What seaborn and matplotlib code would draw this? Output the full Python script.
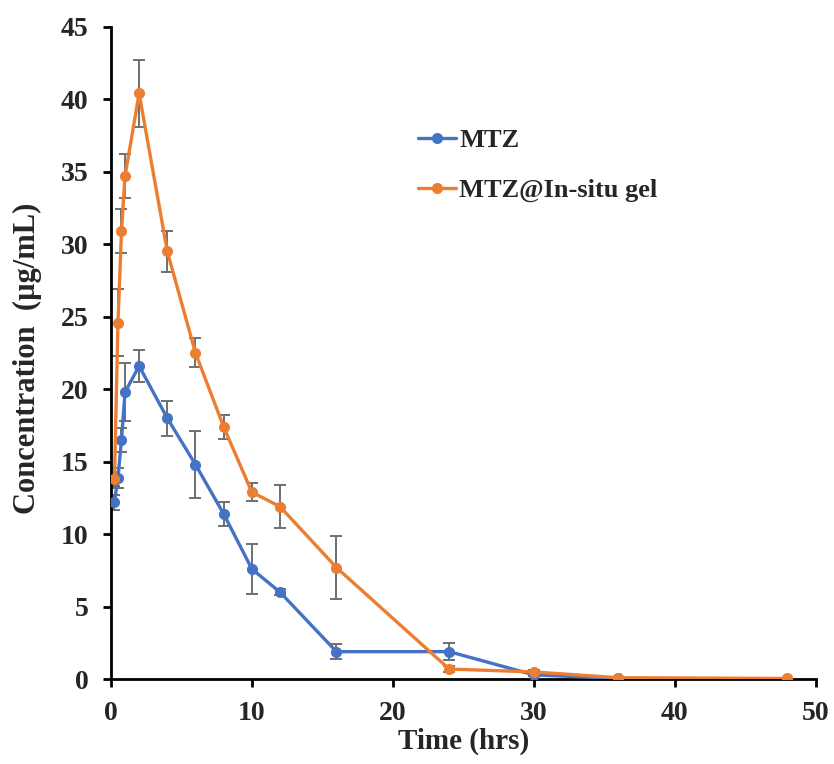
import matplotlib
matplotlib.use('Agg')
import matplotlib.pyplot as plt
import seaborn as sns
import pandas as pd


# DATA

time_hrs = [0.25, 0.5, 0.75, 1, 2, 4, 6, 8, 10, 12, 16, 24, 30, 36, 48]

mtz_conc = [12.2, 13.9, 16.5, 19.8, 21.6, 18.0, 14.8, 11.4, 7.6, 6.0, 1.9, 1.9, 0.3, 0.05, 0.03]
mtz_err = [0.5, 0.7, 0.8, 2.0, 1.1, 1.2, 2.3, 0.8, 1.7, 0.2, 0.5, 0.6, 0.1, 0.0, 0.0]

gel_conc = [13.8, 24.6, 30.9, 34.7, 40.4, 29.5, 22.5, 17.4, 12.9, 11.9, 7.7, 0.7, 0.5, 0.1, 0.05]
gel_err = [0.5, 2.3, 1.5, 1.5, 2.3, 1.4, 1.0, 0.8, 0.6, 1.5, 2.2, 0.2, 0.1, 0.0, 0.0]

labels = ['MTZ', 'MTZ@In-situ gel']
colors = ['#4472C4', '#ED7D31']

df = pd.DataFrame({
    'Time': time_hrs * 2,
    'Conc': mtz_conc + gel_conc,
    'Err': mtz_err + gel_err,
    'Group': [labels[0]] * len(time_hrs) + [labels[1]] * len(time_hrs),
})


# STYLE

sns.set_style('ticks')
plt.rcParams['font.family'] = ['Liberation Serif', 'DejaVu Serif']
plt.rcParams['font.weight'] = 'bold'


# PLOT

fig = plt.figure(figsize=(8.34, 7.64), dpi=100)
ax = fig.add_axes([0.133, 0.111, 0.845, 0.854])

for grp, col in zip(labels, colors):
    sub = df[df['Group'] == grp]
    ax.errorbar(sub['Time'], sub['Conc'], yerr=sub['Err'], fmt='none',
                ecolor='#6f6f6f', elinewidth=1.4, capsize=4.5, capthick=1.4, zorder=2)

sns.lineplot(data=df, x='Time', y='Conc', hue='Group', palette=colors,
             marker='o', markersize=8, markeredgewidth=0, linewidth=2.4,
             ax=ax, zorder=3)

ax.set_xlim(0, 50)
ax.set_ylim(0, 45)
ax.set_xticks(range(0, 51, 10))
ax.set_yticks(range(0, 46, 5))
ax.tick_params(axis='both', width=2, length=6, color='black', pad=10, labelsize=20)
for lab in ax.get_xticklabels() + ax.get_yticklabels():
    lab.set_fontweight('bold')

ax.set_xlabel('Time (hrs)', fontsize=21, fontweight='bold')
ax.set_ylabel('Concentration  (\u00b5g/mL)', fontsize=22, fontweight='bold')
ax.xaxis.set_label_coords(0.5, -0.075)
ax.yaxis.set_label_coords(-0.098, 0.492)

for side in ['top', 'right']:
    ax.spines[side].set_visible(False)
for side in ['left', 'bottom']:
    ax.spines[side].set_linewidth(2)
    ax.spines[side].set_color('black')

leg = ax.legend(loc='upper left', bbox_to_anchor=(0.402, 0.88), frameon=False,
                labelspacing=1.0, handlelength=1.45, handletextpad=0.12,
                prop={'weight': 'bold', 'size': 19})

fig.savefig('out.png', dpi=100)
